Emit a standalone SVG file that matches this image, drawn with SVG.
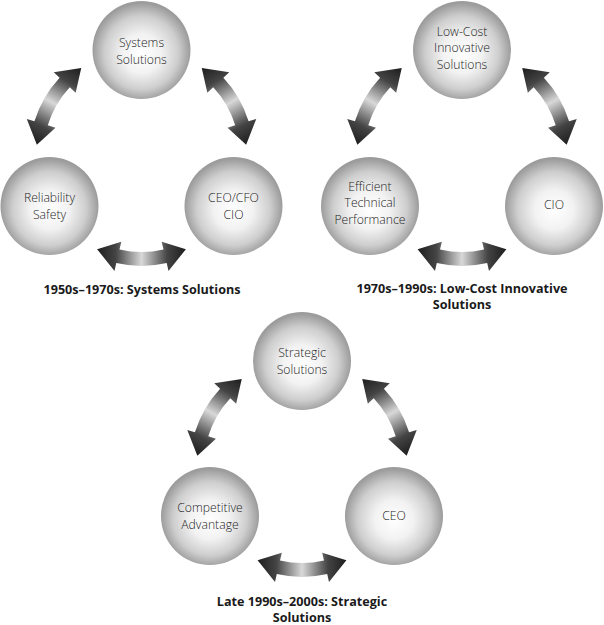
<svg xmlns="http://www.w3.org/2000/svg" width="604" height="625" viewBox="0 0 604 625">
<defs>
  <radialGradient id="ball" cx="50%" cy="52%" r="50%" fx="50%" fy="55%">
    <stop offset="0" stop-color="#ffffff"/>
    <stop offset="0.4" stop-color="#f2f2f2"/>
    <stop offset="0.75" stop-color="#cecece"/>
    <stop offset="1" stop-color="#9c9c9c"/>
  </radialGradient>
  <linearGradient id="arrowGrad" gradientUnits="userSpaceOnUse" x1="-46" y1="0" x2="46" y2="0">
    <stop offset="0" stop-color="#1a1a1a"/>
    <stop offset="0.22" stop-color="#444444"/>
    <stop offset="0.5" stop-color="#d8d8d8"/>
    <stop offset="0.78" stop-color="#444444"/>
    <stop offset="1" stop-color="#1a1a1a"/>
  </linearGradient>
  <path id="arc" d="M44.4,95.2 L27.0,116.9 L25.2,109.1 A112,112 0 0 1 -25.2,109.1 L-27.0,116.9 L-44.4,95.2 L-20.2,87.7 L-22.0,95.5 A98,98 0 0 0 22.0,95.5 L20.2,87.7 Z"/>
</defs>
<style>
  .ball { fill: url(#ball); }
  .lbl { font-family: "Open Sans", "Liberation Sans", sans-serif; font-size: 12.2px; font-weight: 300; fill: #1e1e1e; text-anchor: middle; }
  .ttl { font-family: "Open Sans", "Liberation Sans", sans-serif; font-size: 12.6px; font-weight: 700; fill: #1a1a1a; text-anchor: middle; }
  .arr { fill: url(#arrowGrad); }
</style>

<g id="connectors">
  <g transform="translate(141.5,154)">
    <use href="#arc" class="arr"/>
    <use href="#arc" class="arr" transform="rotate(120)"/>
    <use href="#arc" class="arr" transform="rotate(240)"/>
  </g>
  <g transform="translate(462,154)">
    <use href="#arc" class="arr"/>
    <use href="#arc" class="arr" transform="rotate(120)"/>
    <use href="#arc" class="arr" transform="rotate(240)"/>
  </g>
  <g transform="translate(302,465)">
    <use href="#arc" class="arr"/>
    <use href="#arc" class="arr" transform="rotate(120)"/>
    <use href="#arc" class="arr" transform="rotate(240)"/>
  </g>
</g>

<g id="n-systems">
  <circle class="ball" cx="141.5" cy="50" r="49"/>
  <text class="lbl" x="141.5" y="47">Systems</text>
  <text class="lbl" x="141.5" y="63.5">Solutions</text>
</g>
<g id="n-reliability">
  <circle class="ball" cx="49.5" cy="206" r="49"/>
  <text class="lbl" x="49.5" y="202">Reliability</text>
  <text class="lbl" x="49.5" y="218.5">Safety</text>
</g>
<g id="n-ceocfo">
  <circle class="ball" cx="233.5" cy="206" r="49"/>
  <text class="lbl" x="233.5" y="202">CEO/CFO</text>
  <text class="lbl" x="233.5" y="218.5">CIO</text>
</g>
<g id="t1">
  <text class="ttl" x="142" y="294">1950s–1970s: Systems Solutions</text>
</g>

<g id="n-lowcost">
  <circle class="ball" cx="462" cy="50" r="49"/>
  <text class="lbl" x="462" y="35.5">Low-Cost</text>
  <text class="lbl" x="462" y="52">Innovative</text>
  <text class="lbl" x="462" y="68.5">Solutions</text>
</g>
<g id="n-efficient">
  <circle class="ball" cx="370" cy="206" r="49"/>
  <text class="lbl" x="370" y="190.5">Efficient</text>
  <text class="lbl" x="370" y="207">Technical</text>
  <text class="lbl" x="370" y="223.5">Performance</text>
</g>
<g id="n-cio">
  <circle class="ball" cx="554" cy="206" r="49"/>
  <text class="lbl" x="554" y="209">CIO</text>
</g>
<g id="t2">
  <text class="ttl" x="462" y="293">1970s–1990s: Low-Cost Innovative</text>
  <text class="ttl" x="462" y="309">Solutions</text>
</g>

<g id="n-strategic">
  <circle class="ball" cx="302" cy="361" r="49"/>
  <text class="lbl" x="302" y="357">Strategic</text>
  <text class="lbl" x="302" y="373.5">Solutions</text>
</g>
<g id="n-competitive">
  <circle class="ball" cx="210" cy="516" r="49"/>
  <text class="lbl" x="210" y="512">Competitive</text>
  <text class="lbl" x="210" y="528.5">Advantage</text>
</g>
<g id="n-ceo">
  <circle class="ball" cx="394" cy="516" r="49"/>
  <text class="lbl" x="394" y="520">CEO</text>
</g>
<g id="t3">
  <text class="ttl" x="302" y="606">Late 1990s–2000s: Strategic</text>
  <text class="ttl" x="302" y="622">Solutions</text>
</g>
</svg>
